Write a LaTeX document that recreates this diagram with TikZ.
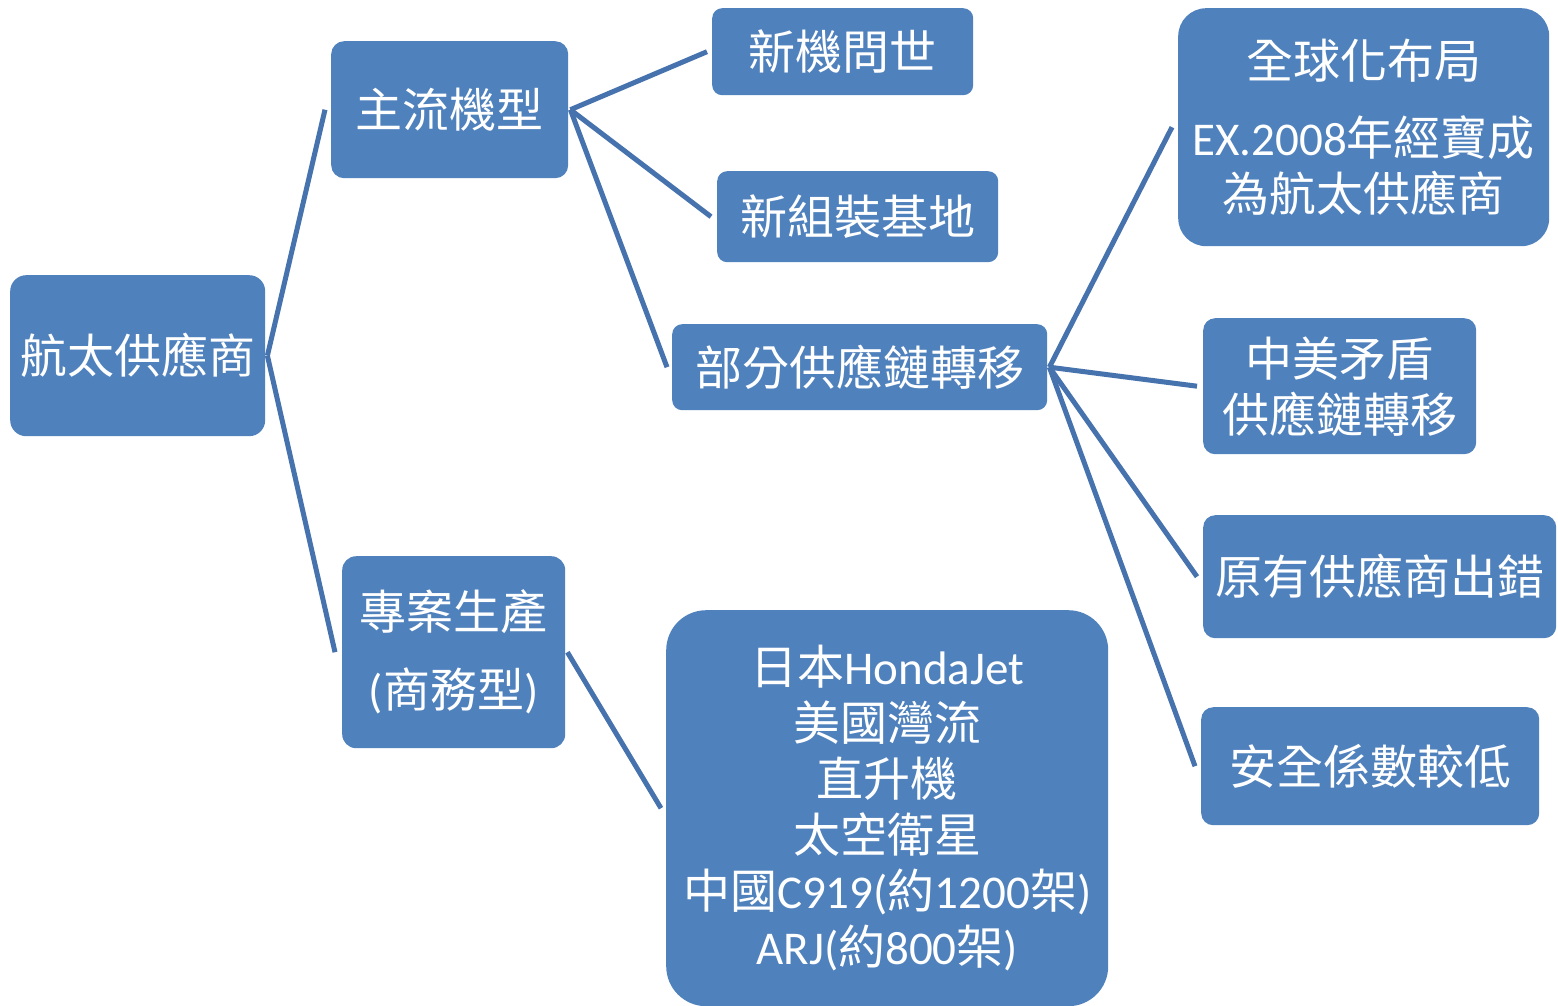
\documentclass[tikz,border=0pt]{standalone}
\usepackage{fontspec}
\setmainfont{Noto Sans CJK TC}
\newfontfamily\lat{Carlito}
\definecolor{boxblue}{HTML}{4F81BD}
\definecolor{lineblue}{HTML}{4672AE}
\begin{document}
\begin{tikzpicture}[x=1pt,y=-1pt,
  box/.style={fill=boxblue, text=white, inner sep=0pt, align=center, anchor=north west,
    font=\fontsize{47}{56}\selectfont},
  link/.style={draw=lineblue, line width=5pt}]
\useasboundingbox[fill=white] (0,0) rectangle (1558,1006);
\node[box, rounded corners=16pt, minimum width=255pt, minimum height=161pt] (root) at (10,275) {航太供應商};
\node[box, rounded corners=13pt, minimum width=237pt, minimum height=137pt] (main) at (331,41) {主流機型};
\node[box, rounded corners=14pt, minimum width=223pt, minimum height=192pt] (proj) at (342,556) {專案生產\\[22pt]{\lat (}商務型{\lat )}};
\node[box, rounded corners=10pt, minimum width=261pt, minimum height=87pt] (new) at (712,8) {新機問世};
\node[box, rounded corners=10pt, minimum width=281pt, minimum height=91pt] (base) at (717,171) {新組裝基地};
\node[box, rounded corners=10pt, minimum width=375pt, minimum height=86pt] (part) at (672,324) {部分供應鏈轉移};
\node[box, rounded corners=40pt, minimum width=442pt, minimum height=396pt] (list) at (666,610)
  {日本{\lat HondaJet}\\美國灣流\\直升機\\太空衛星\\中國{\lat C919(}約{\lat 1200}架{\lat )}\\{\lat ARJ(}約{\lat 800}架{\lat )}};
\node[box, rounded corners=28pt, minimum width=371pt, minimum height=238pt] (glob) at (1178,8)
  {全球化布局\\[21pt]{\lat EX.2008}年經寶成\\為航太供應商};
\node[box, rounded corners=12pt, minimum width=273pt, minimum height=136pt] (trade) at (1203,318) {中美矛盾\\供應鏈轉移};
\node[box, rounded corners=12pt, minimum width=353pt, minimum height=123pt] (err) at (1203,515) {原有供應商出錯};
\node[box, rounded corners=12pt, minimum width=338pt, minimum height=118pt] (safe) at (1201,707) {安全係數較低};
\draw[link] ([xshift=2pt]root.east) -- ([xshift=-6pt]main.west);
\draw[link] ([xshift=2pt]root.east) -- ([xshift=-7pt]proj.west);
\draw[link] ([xshift=2pt]main.east) -- ([xshift=-5pt]new.west);
\draw[link] ([xshift=2pt]main.east) -- ([xshift=-6pt]base.west);
\draw[link] ([xshift=2pt]main.east) -- ([xshift=-5pt]part.west);
\draw[link] ([xshift=2pt]proj.east) -- ([xshift=-5pt]list.west);
\draw[link] ([xshift=2pt]part.east) -- ([xshift=-6pt]glob.west);
\draw[link] ([xshift=2pt]part.east) -- ([xshift=-6pt]trade.west);
\draw[link] ([xshift=2pt]part.east) -- ([xshift=-6pt]err.west);
\draw[link] ([xshift=2pt]part.east) -- ([xshift=-6pt]safe.west);
\end{tikzpicture}
\end{document}
